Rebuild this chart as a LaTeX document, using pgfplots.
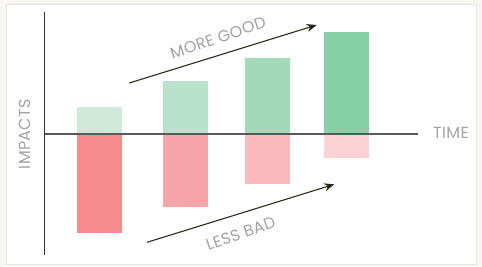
\documentclass[border=0pt]{standalone}
\usepackage{pgfplots}
\pgfplotsset{compat=1.18}
\usepackage{fontspec}
\setmainfont{Poppins}[LetterSpace=2]
\usetikzlibrary{arrows.meta}
\definecolor{bgout}{HTML}{F8F7F4}
\definecolor{frame}{HTML}{E6E6E3}
\definecolor{txt}{HTML}{A3A3A3}
\definecolor{arr}{HTML}{2B2B1F}
\definecolor{g1}{HTML}{CFEADB}
\definecolor{g2}{HTML}{B8E2CC}
\definecolor{g3}{HTML}{A1D9B9}
\definecolor{g4}{HTML}{87CFA4}
\definecolor{r1}{HTML}{F68B8F}
\definecolor{r2}{HTML}{F6A5A8}
\definecolor{r3}{HTML}{F9B9BD}
\definecolor{r4}{HTML}{FAD2D4}
\begin{document}
\begin{tikzpicture}
\fill[bgout] (-44.7pt,133.7pt) rectangle (437.3pt,-132.3pt);
\filldraw[fill=white,draw=frame,line width=1pt] (-37.7pt,129.2pt) rectangle (431.8pt,-130.6pt);
\begin{axis}[
  at={(0,0)}, anchor=origin,
  x=1pt, y=1pt,
  xmin=0, xmax=373.3, ymin=-121.3, ymax=121.7,
  axis lines=middle,
  axis line style={-},
  x axis line style={draw=black!65, line width=1.6pt},
  y axis line style={draw=black!80, line width=1.2pt},
  xtick=\empty, ytick=\empty,
  ybar, bar width=45pt, bar shift=0pt,
  every axis plot/.append style={draw=none},
  clip=false,
]
\addplot[fill=g1] coordinates {(54.8,26.7)};
\addplot[fill=g2] coordinates {(140.8,52.7)};
\addplot[fill=g3] coordinates {(222.8,75.7)};
\addplot[fill=g4] coordinates {(301.8,101.7)};
\addplot[fill=r1] coordinates {(54.8,-99)};
\addplot[fill=r2] coordinates {(140.8,-73)};
\addplot[fill=r3] coordinates {(222.8,-50)};
\addplot[fill=r4] coordinates {(301.8,-24)};
\end{axis}
\draw[draw=black!65, line width=1.6pt] (0pt,0pt) -- (373.3pt,0pt);
\draw[arr, line width=1.1pt, -{Stealth[length=10pt,width=8pt,fill=black]}] (84.6pt,50.7pt) -- (272pt,108.7pt);
\draw[arr, line width=1.1pt, -{Stealth[length=10pt,width=8pt,fill=black]}] (102.3pt,-108.6pt) -- (289.6pt,-50.6pt);
\node[txt, font=\fontsize{16}{18}\selectfont, rotate=19] at (173.3pt,95.7pt) {MORE GOOD};
\node[txt, font=\fontsize{16}{18}\selectfont, rotate=19] at (196pt,-99.8pt) {LESS BAD};
\node[txt, font=\fontsize{16}{18}\selectfont, anchor=west, inner sep=0pt] at (388.3pt,0.7pt) {TIME};
\node[txt, font=\fontsize{16}{18}\selectfont, rotate=90, inner sep=0pt] at (-19.7pt,-0.3pt) {IMPACTS};
\end{tikzpicture}
\end{document}
